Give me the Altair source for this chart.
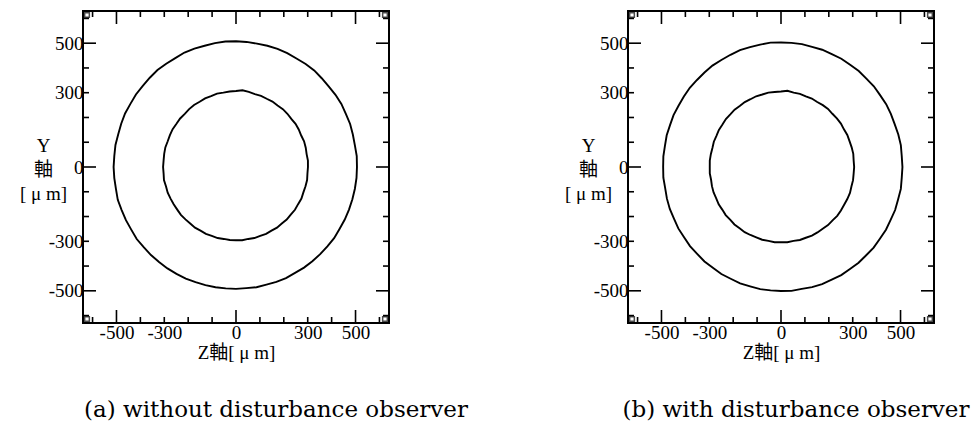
import math

import altair as alt
import pandas as pd

# Trajectory radii [um], sampled every 5 degrees counter-clockwise from +Z
ANGLES = list(range(0, 360, 5))

OUTER_A = [506, 507, 505, 506, 508, 507, 509, 508, 506, 507, 509, 508, 506, 507, 508, 507, 506, 507,
           508, 509, 508, 507, 509, 510, 508, 509, 511, 510, 509, 511, 510, 512, 511, 510, 512, 511,
           512, 511, 510, 512, 509, 508, 506, 507, 504, 503, 501, 500, 498, 497, 495, 494, 493, 492,
           492, 491, 493, 492, 494, 495, 494, 496, 497, 498, 499, 501, 500, 502, 503, 504, 505, 506]
INNER_A = [301, 302, 300, 302, 303, 301, 303, 304, 302, 304, 305, 303, 305, 304, 306, 305, 308, 311,
           307, 306, 305, 307, 305, 306, 304, 306, 305, 303, 305, 304, 306, 305, 304, 306, 305, 304,
           305, 304, 306, 303, 304, 302, 301, 300, 301, 299, 298, 299, 297, 298, 296, 297, 295, 296,
           296, 297, 295, 297, 296, 298, 297, 299, 298, 300, 299, 301, 300, 302, 300, 301, 302, 300]
OUTER_B = [508, 507, 509, 508, 506, 507, 508, 506, 507, 505, 506, 504, 505, 503, 504, 502, 504, 503,
           503, 504, 502, 501, 502, 500, 499, 500, 498, 497, 498, 496, 495, 496, 494, 495, 493, 494,
           493, 494, 492, 494, 495, 494, 496, 495, 497, 496, 498, 497, 499, 498, 500, 499, 501, 500,
           501, 502, 500, 502, 503, 502, 504, 503, 505, 504, 506, 505, 507, 506, 508, 507, 509, 507]
INNER_B = [306, 305, 307, 306, 305, 306, 304, 306, 305, 304, 306, 305, 303, 305, 304, 306, 305, 309,
           305, 304, 305, 303, 304, 302, 303, 301, 302, 300, 301, 299, 300, 298, 299, 297, 298, 299,
           298, 299, 297, 299, 300, 299, 301, 300, 302, 301, 303, 302, 304, 303, 302, 304, 303, 305,
           304, 305, 303, 305, 304, 306, 305, 304, 306, 305, 307, 306, 305, 306, 307, 305, 306, 305]

LABELS = [-500, -300, 0, 300, 500]
MAJOR_TICKS = [-500, 0, 500]
MINOR_TICKS = [-600, -400, -300, -200, -100, 100, 200, 300, 400, 600]
X_LIM = 640
Y_LIM = 630

X_TITLE = "Z軸[ μ m]"
Y_TITLE = ["Y", "軸", "[ μ m]"]
CAPTION_A = "(a) without disturbance observer"
CAPTION_B = "(b) with disturbance observer"

W, H = 306, 312
SERIF = "'Liberation Serif', 'Noto Sans CJK JP'"
CAPTION_FONT = "'DejaVu Serif'"


def rings(outer, inner):
    rows = []
    for name, radii in (("outer", outer), ("inner", inner)):
        pts = list(zip(ANGLES, radii)) + [(ANGLES[0] + 360, radii[0])]
        for i, (a, r) in enumerate(pts):
            t = math.radians(a)
            rows.append({"ring": name, "i": i, "z": r * math.cos(t), "y": r * math.sin(t)})
    return pd.DataFrame(rows)


xs = alt.Scale(domain=[-X_LIM, X_LIM], nice=False, zero=False)
ys = alt.Scale(domain=[-Y_LIM, Y_LIM], nice=False, zero=False)

# plain hyphen-minus in tick labels
PLAIN = "'' + datum.value"

x_axis = alt.Axis(
    values=LABELS, ticks=False, domain=False, grid=False, labelExpr=PLAIN,
    title=X_TITLE, titleFont=SERIF, titleFontSize=19, titleFontWeight="normal",
    titleColor="black", titlePadding=1,
    labelFont=SERIF, labelFontSize=19, labelColor="black", labelPadding=0)
y_axis = alt.Axis(
    values=LABELS, ticks=False, domain=False, grid=False, labelExpr=PLAIN,
    title=Y_TITLE, titleAngle=0, titleAlign="center", titleBaseline="middle",
    titleX=-40, titleY=134, titleLineHeight=24,
    titleFont=SERIF, titleFontSize=19, titleFontWeight="normal", titleColor="black",
    labelFont=SERIF, labelFontSize=19, labelColor="black", labelPadding=0)


def tick_layers():
    layers = []
    for vals, size in ((MAJOR_TICKS, 13), (MINOR_TICKS, 6)):
        src = alt.Chart(pd.DataFrame({"t": vals}))
        rule = dict(color="black", strokeWidth=1.6)
        tx = alt.X("t:Q", scale=xs, axis=x_axis)
        ty = alt.Y("t:Q", scale=ys, axis=y_axis)
        layers += [
            src.mark_rule(**rule).encode(x=tx, y=alt.value(0), y2=alt.value(size)),
            src.mark_rule(**rule).encode(x=tx, y=alt.value(H), y2=alt.value(H - size)),
            src.mark_rule(**rule).encode(y=ty, x=alt.value(0), x2=alt.value(size)),
            src.mark_rule(**rule).encode(y=ty, x=alt.value(W), x2=alt.value(W - size)),
        ]
    return layers


def corner_marks():
    # small open squares tucked into the frame corners
    layers = []
    for sx in (-1, 1):
        for sy in (-1, 1):
            layers.append(
                alt.Chart(pd.DataFrame({"cx": [sx * X_LIM], "cy": [sy * Y_LIM]}))
                .mark_square(filled=False, color="black", size=22, strokeWidth=1.5,
                             xOffset=-4 * sx, yOffset=4 * sy)
                .encode(x=alt.X("cx:Q", scale=xs, axis=x_axis),
                        y=alt.Y("cy:Q", scale=ys, axis=y_axis))
            )
    return layers


def panel(df, caption, cap_dx):
    line = alt.Chart(df).mark_line(color="black", strokeWidth=1.9).encode(
        x=alt.X("z:Q", scale=xs, axis=x_axis),
        y=alt.Y("y:Q", scale=ys, axis=y_axis),
        detail="ring:N",
        order="i:Q",
    )
    return alt.layer(line, *tick_layers(), *corner_marks()).properties(
        width=W, height=H,
        title=alt.TitleParams(caption, orient="bottom", font=CAPTION_FONT, fontSize=23,
                              fontWeight="normal", color="black", dx=cap_dx, offset=37),
    )


left = panel(rings(OUTER_A, INNER_A), CAPTION_A, 40)
right = panel(rings(OUTER_B, INNER_B), CAPTION_B, 15)

chart = alt.hconcat(left, right, spacing=239, bounds="flush").properties(
    padding={"left": 18, "top": 8, "right": 0, "bottom": 0},
    background="white",
).configure_view(stroke="black", strokeWidth=2)

chart.save("out.html", embed_options={"renderer": "svg", "actions": False})
